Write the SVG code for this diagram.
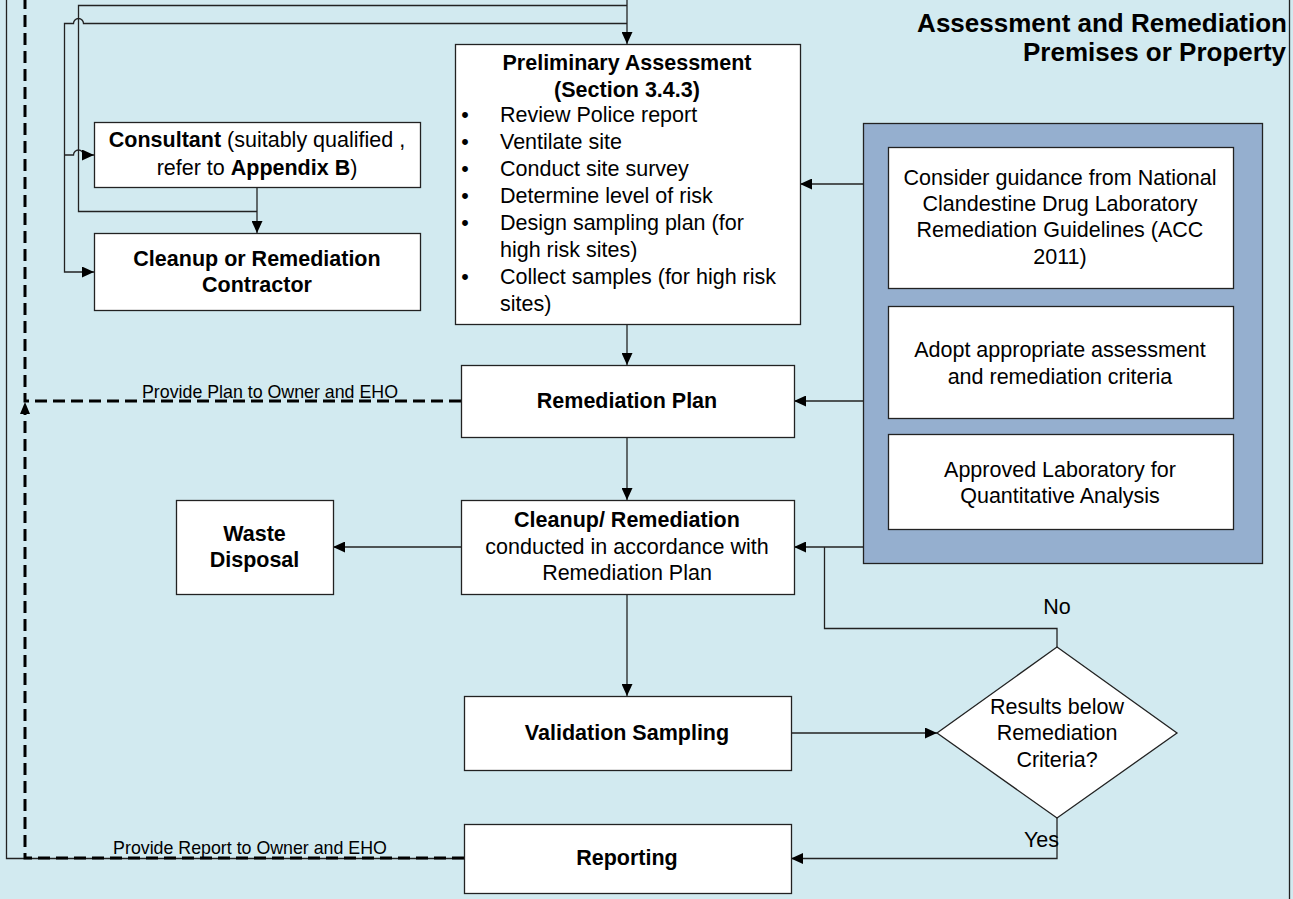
<svg xmlns="http://www.w3.org/2000/svg" width="1293" height="899" viewBox="0 0 1293 899">
<style>
text{font-family:"Liberation Sans",Arial,sans-serif;font-size:21.5px;fill:#000}
.b{font-weight:bold}
.m{text-anchor:middle}
.box{fill:#fff;stroke:#222;stroke-width:1.3}
.ln{fill:none;stroke:#222;stroke-width:1.3}
.dash{fill:none;stroke:#000;stroke-width:3;stroke-dasharray:12 6}
.lbl{font-size:17.8px}
.ttl{font-size:26px;font-weight:bold;text-anchor:end}
</style>
<defs>
<marker id="ah" markerUnits="userSpaceOnUse" markerWidth="12" markerHeight="11" refX="12" refY="5.5" orient="auto">
<path d="M0,0 L12,5.5 L0,11 z" fill="#000"/>
</marker>
</defs>
<rect x="0" y="0" width="1293" height="899" fill="#D2EAF0"/>
<line x1="1289.5" y1="0" x2="1289.5" y2="899" stroke="#222" stroke-width="1.3"/>
<g id="title">
<text class="ttl" x="1287" y="31.5">Assessment and Remediation</text>
<text class="ttl" x="1286" y="60.5">Premises or Property</text>
</g>
<g id="connectors">
<path class="ln" d="M627,0 V44" marker-end="url(#ah)"/>
<path class="ln" d="M627,5.5 H78.5 V211.5 H257"/>
<path class="ln" d="M627,23.5 H83.5 a5,5 0 0 0 -10,0 H64.5 V272 H94" marker-end="url(#ah)"/>
<path class="ln" d="M64.5,155 H73.5 a5,5 0 0 1 10,0 H94" marker-end="url(#ah)"/>
<path class="ln" d="M257,188 V233" marker-end="url(#ah)"/>
<path class="ln" d="M863,184 H800" marker-end="url(#ah)"/>
<path class="ln" d="M627,324 V365" marker-end="url(#ah)"/>
<path class="ln" d="M863,401 H794" marker-end="url(#ah)"/>
<path class="ln" d="M627,437 V500" marker-end="url(#ah)"/>
<path class="ln" d="M863,547 H794" marker-end="url(#ah)"/>
<path class="ln" d="M461,547 H333" marker-end="url(#ah)"/>
<path class="ln" d="M1057,647 V628.5 H824.5 V547"/>
<path class="ln" d="M627,594 V696" marker-end="url(#ah)"/>
<path class="ln" d="M791,733 H937" marker-end="url(#ah)"/>
<path class="ln" d="M1057,818 V858.5 H791" marker-end="url(#ah)"/>
<path class="ln" d="M464,858.5 H6.5 V0"/>
<path class="dash" d="M461,401 H25 V0"/>
<path class="dash" d="M464,858 H25 V414"/>
<path d="M25,402 L30,414 L20,414 z" fill="#000"/>
<text class="lbl m" x="270" y="398">Provide Plan to Owner and EHO</text>
<text class="lbl m" x="250" y="854">Provide Report to Owner and EHO</text>
<text class="m" x="1057" y="614">No</text>
<text x="1059" y="847" text-anchor="end">Yes</text>
</g>
<g id="consultant">
<rect class="box" x="94.5" y="122.5" width="326" height="65"/>
<text class="m" x="257" y="147"><tspan class="b">Consultant</tspan> (suitably qualified ,</text>
<text class="m" x="257" y="175">refer to <tspan class="b">Appendix B</tspan>)</text>
</g>
<g id="contractor">
<rect class="box" x="94.5" y="233.5" width="326" height="77"/>
<text class="b m" x="257" y="266">Cleanup or Remediation</text>
<text class="b m" x="257" y="292">Contractor</text>
</g>
<g id="preliminary">
<rect class="box" x="455.5" y="44.5" width="345" height="280"/>
<text class="b m" x="627" y="70">Preliminary Assessment</text>
<text class="b m" x="627" y="97">(Section 3.4.3)</text>
<text class="m" x="465" y="122">•</text><text x="500" y="122">Review Police report</text>
<text class="m" x="465" y="149">•</text><text x="500" y="149">Ventilate site</text>
<text class="m" x="465" y="176">•</text><text x="500" y="176">Conduct site survey</text>
<text class="m" x="465" y="203">•</text><text x="500" y="203">Determine level of risk</text>
<text class="m" x="465" y="230">•</text><text x="500" y="230">Design sampling plan (for</text>
<text x="500" y="257">high risk sites)</text>
<text class="m" x="465" y="284">•</text><text x="500" y="284">Collect samples (for high risk</text>
<text x="500" y="311">sites)</text>
</g>
<g id="guidance-panel">
<rect x="863.5" y="123.5" width="399" height="440" fill="#95AFCF" stroke="#222" stroke-width="1.3"/>
</g>
<g id="guidance">
<rect class="box" x="888.5" y="147.5" width="345" height="141"/>
<text class="m" x="1060" y="185">Consider guidance from National</text>
<text class="m" x="1060" y="211">Clandestine Drug Laboratory</text>
<text class="m" x="1060" y="237">Remediation Guidelines (ACC</text>
<text class="m" x="1060" y="264">2011)</text>
</g>
<g id="criteria">
<rect class="box" x="888.5" y="306.5" width="345" height="112"/>
<text class="m" x="1060" y="357">Adopt appropriate assessment</text>
<text class="m" x="1060" y="384">and remediation criteria</text>
</g>
<g id="laboratory">
<rect class="box" x="888.5" y="434.5" width="345" height="95"/>
<text class="m" x="1060" y="477">Approved Laboratory for</text>
<text class="m" x="1060" y="503">Quantitative Analysis</text>
</g>
<g id="remediation-plan">
<rect class="box" x="461.5" y="365.5" width="333" height="72"/>
<text class="b m" x="627" y="408">Remediation Plan</text>
</g>
<g id="cleanup">
<rect class="box" x="461.5" y="500.5" width="333" height="94"/>
<text class="b m" x="627" y="527">Cleanup/ Remediation</text>
<text class="m" x="627" y="554">conducted in accordance with</text>
<text class="m" x="627" y="580">Remediation Plan</text>
</g>
<g id="waste">
<rect class="box" x="176.5" y="500.5" width="157" height="94"/>
<text class="b m" x="254.5" y="541">Waste</text>
<text class="b m" x="254.5" y="567">Disposal</text>
</g>
<g id="validation">
<rect class="box" x="464.5" y="696.5" width="327" height="74"/>
<text class="b m" x="627" y="740">Validation Sampling</text>
</g>
<g id="decision">
<path class="box" d="M1057,647 L1177,733 L1057,818 L937,733 z"/>
<text class="m" x="1057" y="714">Results below</text>
<text class="m" x="1057" y="740">Remediation</text>
<text class="m" x="1057" y="767">Criteria?</text>
</g>
<g id="reporting">
<rect class="box" x="464.5" y="824.5" width="327" height="69"/>
<text class="b m" x="627" y="865">Reporting</text>
</g>
</svg>
